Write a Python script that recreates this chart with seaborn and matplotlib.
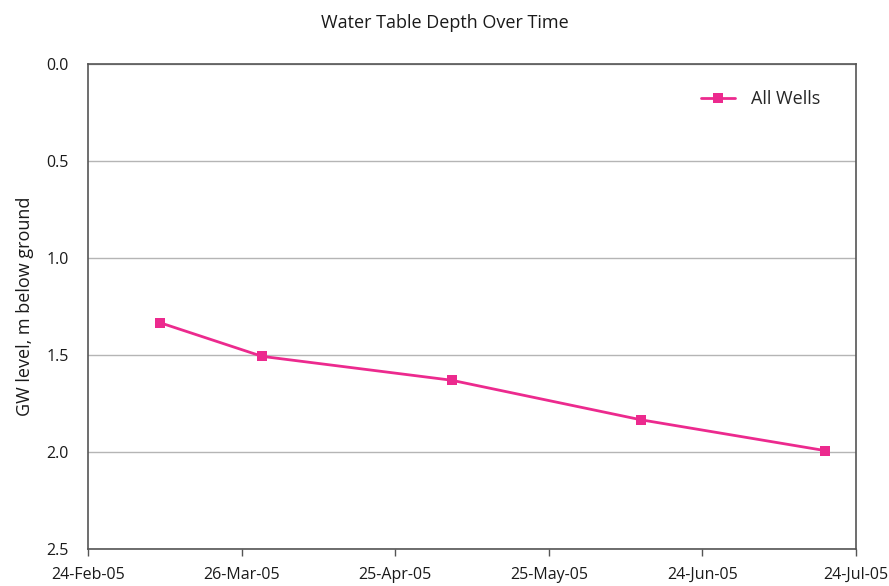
import pandas as pd
import matplotlib.pyplot as plt
import matplotlib.dates as mdates
import seaborn as sns

# values
dates = ["2005-03-10", "2005-03-30", "2005-05-06", "2005-06-12", "2005-07-18"]
depth = [1.333, 1.507, 1.630, 1.834, 1.993]
series_name = "All Wells"
tick_dates = ["2005-02-24", "2005-03-26", "2005-04-25", "2005-05-25", "2005-06-24", "2005-07-24"]
y_ticks = [0.0, 0.5, 1.0, 1.5, 2.0, 2.5]

df = pd.DataFrame({"date": pd.to_datetime(dates), "depth": depth, "series": series_name})

sns.set_theme(style="white")
plt.rcParams["font.family"] = ["Open Sans", "DejaVu Sans"]

fig = plt.figure(figsize=(8.89, 5.86), dpi=100)
ax = fig.add_axes([88 / 889, 1 - 549 / 586, (856 - 88) / 889, (549 - 64) / 586])

sns.lineplot(data=df, x="date", y="depth", hue="series", palette=["#EC2A8E"],
             marker="s", markersize=7, markeredgewidth=0, linewidth=2, ax=ax)

ax.set_xlim(pd.Timestamp(tick_dates[0]), pd.Timestamp(tick_dates[-1]))
ax.set_xticks(pd.to_datetime(tick_dates))
ax.xaxis.set_major_formatter(mdates.DateFormatter("%d-%b-%y"))
ax.set_ylim(2.5, 0.0)
ax.set_yticks(y_ticks)
ax.set_yticklabels([f"{v:.1f}" for v in y_ticks])

ax.grid(axis="y", color="#b5b5b5", linewidth=1)
ax.set_axisbelow(True)
for s in ax.spines.values():
    s.set_color("#555555")
    s.set_linewidth(1.2)

ax.tick_params(axis="x", bottom=True, length=5, width=1, color="#555555",
               pad=8, labelsize=11.5, labelcolor="#1a1a1a")
ax.tick_params(axis="y", left=False, pad=8, labelsize=11.5, labelcolor="#1a1a1a")
for lbl in ax.get_xticklabels():
    lbl.set_horizontalalignment("center")

ax.set_xlabel("")
ax.set_ylabel("GW level, m below ground", fontsize=13, color="#1a1a1a", labelpad=9)
fig.suptitle("Water Table Depth Over Time", y=1 - 23 / 586, va="center",
             fontsize=13, color="#1a1a1a")

leg = ax.legend(loc="upper right", bbox_to_anchor=(0.975, 0.98), frameon=False,
                fontsize=13, handlelength=1.9, handletextpad=0.9)

fig.savefig("out.png", dpi=100)
